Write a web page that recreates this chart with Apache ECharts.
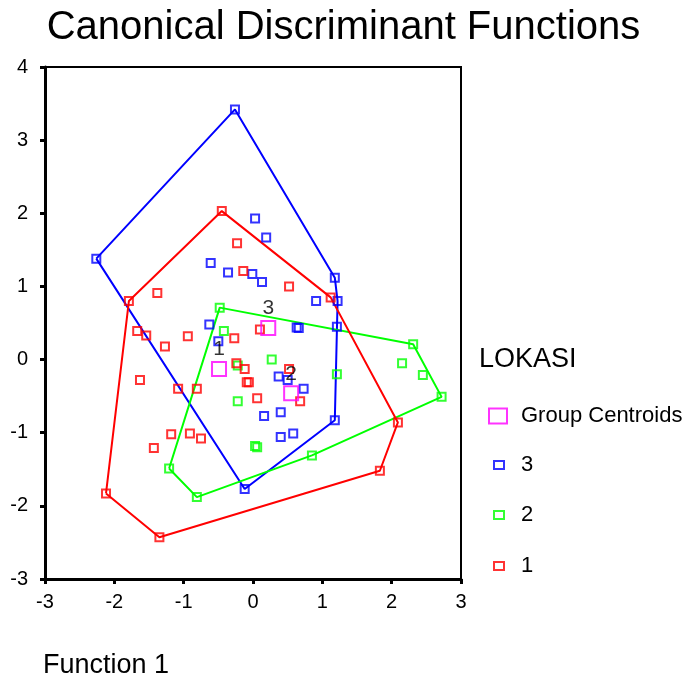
<!DOCTYPE html>
<html>
<head>
<meta charset="utf-8">
<script src="https://cdn.jsdelivr.net/npm/echarts@6/dist/echarts.min.js"></script>
<style>
  html, body { margin: 0; padding: 0; background: #fff; }
  #main { width: 687px; height: 675px; }
</style>
</head>
<body>
<div id="main"></div>
<script>
// discriminant scores, [function 1, function 2]
var group1 = [[-0.45,2.03],[-0.23,1.59],[-0.14,1.21],[0.52,1.00],[1.12,0.85],[-1.79,0.80],[-1.38,0.91],
  [-1.67,0.39],[-1.54,0.33],[-1.27,0.18],[-0.94,0.32],[-0.27,0.29],[0.10,0.41],[-1.63,-0.28],[-1.08,-0.40],
  [-0.81,-0.40],[-0.24,-0.05],[-0.12,-0.13],[-0.09,-0.31],[-0.06,-0.31],[0.06,-0.53],[0.52,-0.13],[0.68,-0.57],
  [-1.18,-1.02],[-0.91,-1.01],[-0.75,-1.08],[-1.43,-1.21],[-2.12,-1.83],[-1.35,-2.43],[2.09,-0.86],[1.83,-1.52]];
var group2 = [[-0.48,0.71],[-0.42,0.39],[-0.22,-0.08],[-0.22,-0.57],[0.27,0.00],[1.21,-0.20],[0.03,-1.18],
  [0.06,-1.20],[0.85,-1.31],[-1.21,-1.49],[-0.81,-1.88],[2.31,0.21],[2.15,-0.05],[2.45,-0.21],[2.72,-0.51]];
var group3 = [[-0.26,3.42],[-2.26,1.38],[0.03,1.93],[0.19,1.67],[-0.61,1.32],[-0.36,1.19],[-0.01,1.17],
  [0.13,1.06],[1.18,1.12],[0.91,0.80],[1.22,0.80],[-0.63,0.48],[-0.50,0.25],[0.63,0.44],[0.66,0.43],
  [1.21,0.45],[0.37,-0.23],[0.50,-0.28],[0.73,-0.40],[0.40,-0.72],[0.16,-0.77],[0.58,-1.01],[0.40,-1.06],
  [1.18,-0.83],[-0.12,-1.77]];
var centroids = [[-0.49,-0.13],[0.55,-0.46],[0.22,0.43]];
var centroidLabels = ['1', '2', '3'];
var xRange = [-3, 3];
var yRange = [-3, 4];

var FONT = 'Liberation Sans';
var RED = '#ff0000', GREEN = '#00ff00', BLUE = '#0000ff', MAGENTA = '#ff00ff';

// territory outline = convex hull of each group
function hull(pts) {
  var p = pts.slice().sort(function (a, b) { return a[0] - b[0] || a[1] - b[1]; });
  function cross(o, a, b) { return (a[0]-o[0])*(b[1]-o[1]) - (a[1]-o[1])*(b[0]-o[0]); }
  var lower = [], upper = [];
  p.forEach(function (q) {
    while (lower.length >= 2 && cross(lower[lower.length-2], lower[lower.length-1], q) <= 0) lower.pop();
    lower.push(q);
  });
  p.slice().reverse().forEach(function (q) {
    while (upper.length >= 2 && cross(upper[upper.length-2], upper[upper.length-1], q) <= 0) upper.pop();
    upper.push(q);
  });
  var h = lower.slice(0, -1).concat(upper.slice(0, -1));
  h.push(h[0]);
  return h;
}

function pts(name, data, color) {
  return {
    name: name, type: 'scatter', data: data, symbol: 'rect', symbolSize: 8,
    itemStyle: { color: 'rgba(0,0,0,0)', borderColor: color, borderWidth: 2 },
    z: 3
  };
}
function outline(name, data, color) {
  return {
    name: name, type: 'line', data: hull(data), symbol: 'none', silent: true,
    lineStyle: { color: color, width: 2 }, z: 2
  };
}
function legendItem(name, color, top, left, w, h, padLeft) {
  return {
    left: left, top: top, itemWidth: w, itemHeight: h, selectedMode: false,
    data: [{ name: name, icon: 'rect',
      itemStyle: { color: 'rgba(0,0,0,0)', borderColor: color, borderWidth: 2 } }],
    textStyle: { fontFamily: FONT, fontSize: 22, color: '#000', padding: [10, 0, 0, padLeft] }
  };
}

var dom = document.getElementById('main');
var myChart = echarts.init(dom);
var option = {
  backgroundColor: '#fff',
  animation: false,
  title: [
    { text: 'Canonical Discriminant Functions', left: 'center', top: 3,
      textStyle: { fontFamily: FONT, fontSize: 40, fontWeight: 'normal', color: '#000' } },
    { text: 'LOKASI', left: 474, top: 341,
      textStyle: { fontFamily: FONT, fontSize: 27, fontWeight: 'normal', color: '#000' } },
    { text: 'Function 1', left: 38, top: 647,
      textStyle: { fontFamily: FONT, fontSize: 27, fontWeight: 'normal', color: '#000' } }
  ],
  legend: [
    legendItem('Group Centroids', MAGENTA, 400, 483, 18, 15, 9),
    legendItem('3', BLUE, 449, 488, 10, 8, 12),
    legendItem('2', GREEN, 499, 488, 10, 8, 12),
    legendItem('1', RED, 550, 488, 10, 8, 12)
  ],
  grid: { left: 45, top: 67, right: 226, bottom: 96, show: true, borderColor: '#000', borderWidth: 2 },
  xAxis: {
    type: 'value', min: xRange[0], max: xRange[1], interval: 1,
    splitLine: { show: false },
    axisLine: { onZero: false, lineStyle: { color: '#000', width: 3 } },
    axisTick: { length: 5, lineStyle: { color: '#000', width: 3 } },
    axisLabel: { color: '#000', fontFamily: FONT, fontSize: 20, margin: 13 }
  },
  yAxis: {
    type: 'value', min: yRange[0], max: yRange[1], interval: 1,
    splitLine: { show: false },
    axisLine: { onZero: false, lineStyle: { color: '#000', width: 3 } },
    axisTick: { length: 5, lineStyle: { color: '#000', width: 3 } },
    axisLabel: { color: '#000', fontFamily: FONT, fontSize: 20, margin: 17 }
  },
  series: [
    outline('hull3', group3, BLUE),
    outline('hull2', group2, GREEN),
    outline('hull1', group1, RED),
    pts('3', group3, BLUE),
    pts('2', group2, GREEN),
    pts('1', group1, RED),
    {
      name: 'Group Centroids', type: 'scatter', symbol: 'rect', symbolSize: 14, z: 4,
      data: centroids.map(function (c, i) { return { value: c, name: centroidLabels[i] }; }),
      itemStyle: { color: 'rgba(0,0,0,0)', borderColor: MAGENTA, borderWidth: 2 },
      label: { show: true, position: 'top', distance: 1, formatter: '{b}',
        color: '#000', fontFamily: FONT, fontSize: 21 }
    }
  ]
};

if (option && typeof option === 'object') {
  myChart.setOption(option);
}
</script>
</body>
</html>
